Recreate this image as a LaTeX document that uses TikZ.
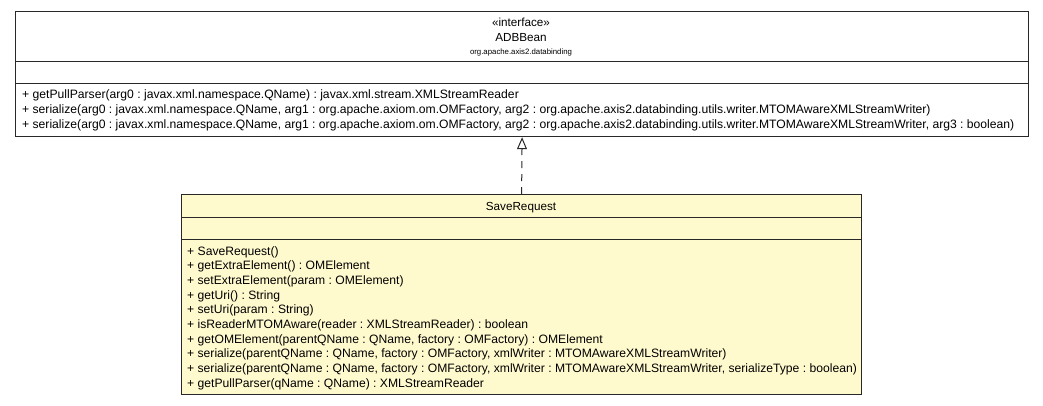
\documentclass[tikz,border=0pt]{standalone}
\usepackage{fontspec}
\setmainfont{Liberation Sans}
\usepackage{tikz}
\usetikzlibrary{shapes,arrows,arrows.meta}
\usepackage{xcolor}
\definecolor{classfill}{RGB}{255,250,206}
\definecolor{boxline}{RGB}{40,40,40}
\frenchspacing

\begin{document}
\begin{tikzpicture}[x=1pt,y=-1pt,
		umlpart/.style={draw=boxline, line width=1.2pt, anchor=north west, inner sep=0pt},
		optext/.style={anchor=base west, inner sep=0pt, font=\fontsize{12.15}{14}\selectfont},
		headtext/.style={anchor=base, inner sep=0pt, font=\fontsize{11.7}{14}\selectfont}]
		\useasboundingbox (0,0) rectangle (1043,405);
		% interface ADBBean
		\node [umlpart, fill=white, minimum width=1013pt, minimum height=50pt] (adbHead) at (15,11) {};
		\node [umlpart, fill=white, minimum width=1013pt, minimum height=22pt] (adbAttr) at (15,61) {};
		\node [umlpart, fill=white, minimum width=1013pt, minimum height=53pt] (adbOps) at (15,83) {};
		\node [headtext] (adbStereo) at (521,26) {«interface»};
		\node [headtext] (adbName) at (521,41) {ADBBean};
		\node [headtext, font=\fontsize{7.8}{9}\selectfont] (adbPkg) at (521,54) {org.apache.axis2.databinding};
		\node [optext] (adbOpA) at (22,98) {+ getPullParser(arg0 : javax.xml.namespace.QName) : javax.xml.stream.XMLStreamReader};
		\node [optext] (adbOpB) at (22,113) {+ serialize(arg0 : javax.xml.namespace.QName, arg1 : org.apache.axiom.om.OMFactory, arg2 : org.apache.axis2.databinding.utils.writer.MTOMAwareXMLStreamWriter)};
		\node [optext] (adbOpC) at (22,128) {+ serialize(arg0 : javax.xml.namespace.QName, arg1 : org.apache.axiom.om.OMFactory, arg2 : org.apache.axis2.databinding.utils.writer.MTOMAwareXMLStreamWriter, arg3 : boolean)};
		% class SaveRequest
		\node [umlpart, fill=classfill, minimum width=680pt, minimum height=23pt] (saveHead) at (181,194) {};
		\node [umlpart, fill=classfill, minimum width=680pt, minimum height=22pt] (saveAttr) at (181,217) {};
		\node [umlpart, fill=classfill, minimum width=680pt, minimum height=155pt] (saveOps) at (181,239) {};
		\node [headtext] (saveName) at (521,210) {SaveRequest};
		\node [optext] (saveOpA) at (187,255) {+ SaveRequest()};
		\node [optext] (saveOpB) at (187,269.7) {+ getExtraElement() : OMElement};
		\node [optext] (saveOpC) at (187,284.4) {+ setExtraElement(param : OMElement)};
		\node [optext] (saveOpD) at (187,299.1) {+ getUri() : String};
		\node [optext] (saveOpE) at (187,313.8) {+ setUri(param : String)};
		\node [optext] (saveOpF) at (187,328.5) {+ isReaderMTOMAware(reader : XMLStreamReader) : boolean};
		\node [optext] (saveOpG) at (187,343.2) {+ getOMElement(parentQName : QName, factory : OMFactory) : OMElement};
		\node [optext] (saveOpH) at (187,357.9) {+ serialize(parentQName : QName, factory : OMFactory, xmlWriter : MTOMAwareXMLStreamWriter)};
		\node [optext] (saveOpI) at (187,372.6) {+ serialize(parentQName : QName, factory : OMFactory, xmlWriter : MTOMAwareXMLStreamWriter, serializeType : boolean)};
		\node [optext] (saveOpJ) at (187,387.3) {+ getPullParser(qName : QName) : XMLStreamReader};
		% realization
		\draw [boxline, line width=1pt, dash pattern=on 7pt off 6pt, -{Triangle[open, length=12pt, width=10pt]}] (saveHead.north) -- (adbOps.south);
	\end{tikzpicture}
\end{document}
